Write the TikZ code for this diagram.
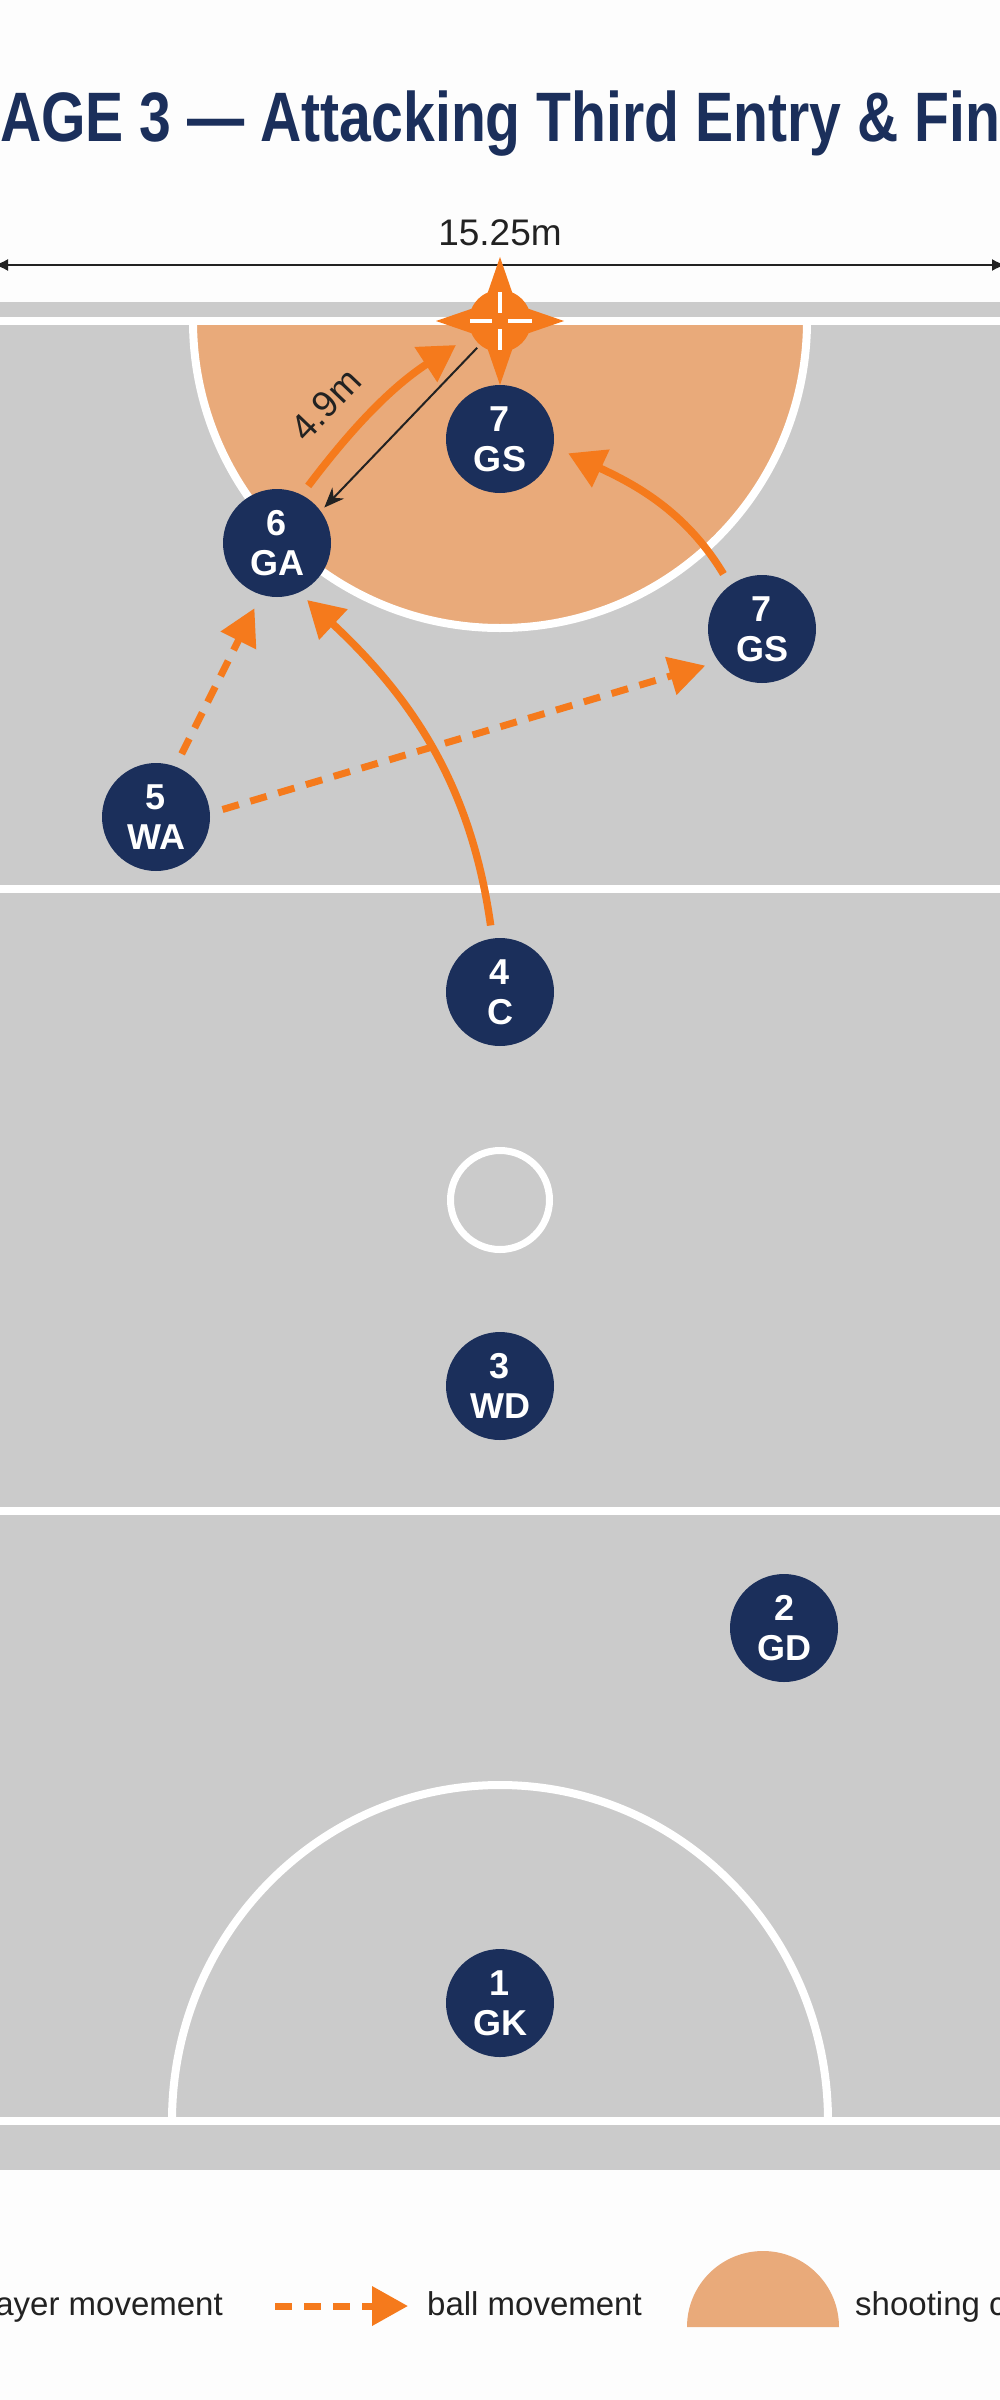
\documentclass[tikz,border=0pt]{standalone}
\usepackage{fontspec}
\setmainfont{Liberation Sans}
\usepackage{graphicx}
\usetikzlibrary{arrows.meta}
\definecolor{navy}{HTML}{1B2F5B}
\definecolor{courtgray}{HTML}{CBCBCB}
\definecolor{zonefill}{HTML}{E9AA7A}
\definecolor{ballorange}{HTML}{F57A1C}
\definecolor{inkgray}{HTML}{222222}
\definecolor{paper}{HTML}{FDFDFD}

\begin{document}
\begin{tikzpicture}[
  x=1pt, y=1pt,
  player/.style={circle, fill=navy, text=white, minimum size=108pt, inner sep=0pt,
    align=center, font=\fontsize{36pt}{40pt}\selectfont\bfseries},
  move/.style={draw=ballorange, line width=7.5pt, -{Triangle[length=36pt, width=40pt]}},
  pass/.style={draw=ballorange, line width=7pt, dash pattern=on 17pt off 12pt,
    -{Triangle[length=36pt, width=38pt]}},
  courtline/.style={draw=white, line width=8pt},
  dimarrow/.style={draw=inkgray, line width=2pt, -{Stealth[length=20pt, width=16pt]}},
  dimtext/.style={text=inkgray, font=\fontsize{37pt}{44pt}\selectfont, inner sep=0pt},
  legendtext/.style={text=inkgray, font=\fontsize{33pt}{39pt}\selectfont, inner sep=0pt}
]

\useasboundingbox (0,0) rectangle (1000,-2400);
\fill[paper] (0,0) rectangle (1000,-2400);
\begin{scope}
\clip (0,0) rectangle (1000,-2400);

\node[anchor=base west, inner sep=0pt, text=navy, font=\fontsize{70pt}{80pt}\selectfont\bfseries]
  (title) at (0,-142)
  {\resizebox{1000pt}{\height}{\llap{ST}AGE 3 — Attacking Third Entry \& Fin\rlap{ishing}}};

\coordinate (dimL) at (-6,-265);
\coordinate (dimR) at (1006,-265);
\draw[draw=inkgray, line width=2.5pt, {Latex[length=14pt, width=12pt]}-{Latex[length=14pt, width=12pt]}]
  (dimL) -- node[dimtext, above=18pt] (width) {15.25m} (dimR);

% court
\fill[courtgray] (0,-302) rectangle (1000,-2170);
\fill[zonefill] (193,-321) arc[start angle=180, end angle=360, radius=307] -- cycle;
\draw[courtline] (193,-321) arc[start angle=180, end angle=360, radius=307];
\draw[courtline] (172,-2121) arc[start angle=180, end angle=0, x radius=328, y radius=336];
\draw[courtline, line width=7pt] (500,-1200) circle[radius=49.5];
\foreach \y in {321, 889, 1511, 2121}
  \draw[courtline] (0,-\y) -- (1000,-\y);

% goal post
\node[circle, fill=ballorange, minimum size=62pt, inner sep=0pt] (post) at (500,-321) {};
\foreach \a in {0,90,180,270}
  \fill[ballorange, shift={(post.center)}, rotate=\a] (0,22) -- (64,0) -- (0,-22) -- cycle;
\begin{scope}[shift={(post.center)}, white, line width=4pt]
  \draw (0,29) -- (0,8) (0,-8) -- (0,-29) (-30,0) -- (-8,0) (8,0) -- (32,0);
\end{scope}

\node[player] (gs) at (500,-439) {7\\GS};
\node[player] (ga) at (277,-543) {6\\GA};
\node[player] (gsr) at (762,-629) {7\\GS};
\node[player] (wa) at (156,-817) {5\\WA};
\node[player] (c) at (500,-992) {4\\C};
\node[player] (wd) at (500,-1386) {3\\WD};
\node[player] (gd) at (784,-1628) {2\\GD};
\node[player] (gk) at (500,-2003) {1\\GK};

\draw[move, shorten <=13pt, shorten >=11pt] (c.98) to[out=98, in=-43] (ga.-66);
\draw[move, shorten <=11pt, shorten >=19pt] (ga.63) to[out=53, in=213] (post.206);
\draw[move, shorten <=13pt, shorten >=16pt] (gsr.126) to[out=121, in=-25] (gs.-8);
\draw[pass, shorten <=14pt, shorten >=15pt] (wa.69) -- (ga.253);
\draw[pass, shorten <=13pt, shorten >=14pt] (wa.4) -- (gsr.217);
\draw[dimarrow, shorten <=4pt, shorten >=5pt] (post.230) --
  node[dimtext, sloped, pos=0.65, above=56pt] (gap) {4.9m} (ga.36);

% legend
\node[legendtext, anchor=base east] (movekey) at (223,-2315) {player movement};
\coordinate (passA) at (275,-2306);
\coordinate (passB) at (408,-2306);
\draw[pass] (passA) -- (passB);
\node[legendtext, anchor=base west] (passkey) at (427,-2315) {ball movement};
\fill[zonefill] (687,-2327) arc[start angle=180, end angle=0, radius=76] -- cycle;
\node[legendtext, anchor=base west] (zonekey) at (855,-2315) {shooting circle};
\end{scope}

\end{tikzpicture}
\end{document}
